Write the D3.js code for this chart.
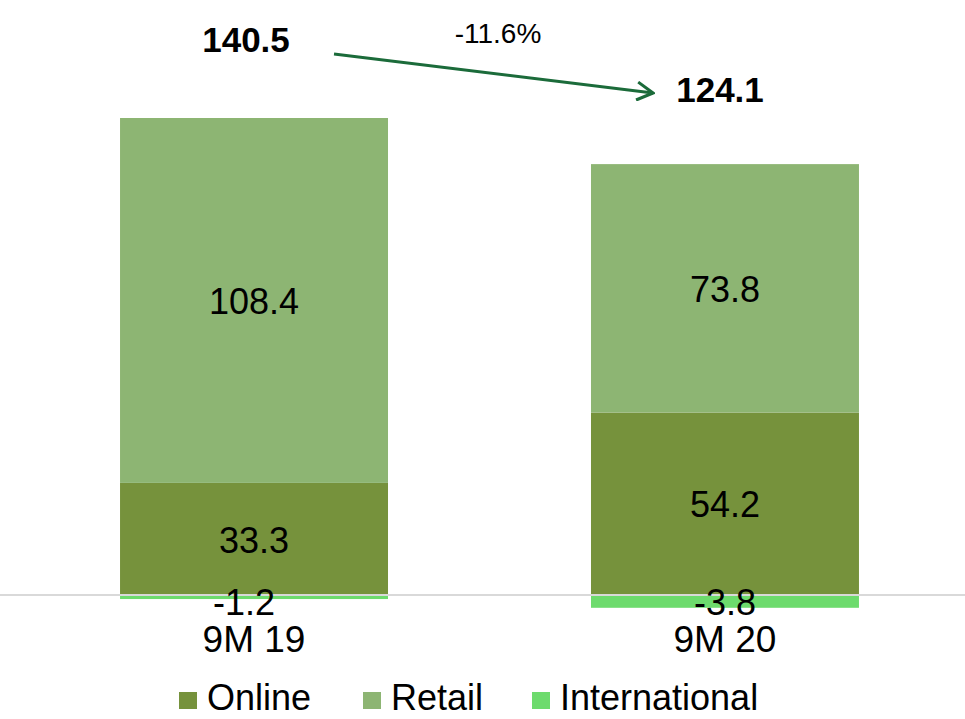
<!DOCTYPE html>
<html>
<head>
<meta charset="utf-8">
<script src="https://cdn.jsdelivr.net/npm/d3@7"></script>
<style>
  body { margin: 0; background: #fff; }
  svg { display: block; font-family: "Liberation Sans", Arial, sans-serif; }
</style>
</head>
<body>
<svg id="chart" width="965" height="719"></svg>
<script>
// data
const categories = ['9M 19', '9M 20']
const seriesNames = ['Online', 'Retail', 'International']
const online = [33.3, 54.2]
const retail = [108.4, 73.8]
const international = [-1.2, -3.8]
const totals = ['140.5', '124.1']
const changeLabel = '-11.6%'

const colors = { 'Online': '#76923c', 'Retail': '#8db573', 'International': '#6ddb6d' }

const width = 965
const svg = d3.select('#chart')

const x = d3.scaleBand()
    .domain(categories)
    .range([7, 972])
    .paddingInner(0.431)
    .paddingOuter(0.24)

const y = d3.scaleLinear()
    .domain([0, 141.7])
    .range([595, 118])

// stacked segments: online on the base, retail on top, international below zero
const segments = []
categories.forEach((cat, i) => {
    segments.push({ cat: cat, i: i, name: 'Online', y0: 0, y1: online[i], value: online[i] })
    segments.push({ cat: cat, i: i, name: 'Retail', y0: online[i], y1: online[i] + retail[i], value: retail[i] })
    segments.push({ cat: cat, i: i, name: 'International', y0: international[i], y1: 0, value: international[i] })
})

svg.append('g')
    .selectAll('rect')
    .data(segments)
    .join('rect')
    .attr('x', d => x(d.cat))
    .attr('width', x.bandwidth())
    .attr('y', d => y(d.y1))
    .attr('height', d => y(d.y0) - y(d.y1))
    .attr('fill', d => colors[d.name])

// zero line
svg.append('line')
    .attr('x1', 0)
    .attr('x2', width)
    .attr('y1', y(0))
    .attr('y2', y(0))
    .attr('stroke', '#d9d9d9')
    .attr('stroke-width', 2)

// segment labels (the negative ones sit just under the zero line)
const labelSize = 36
const negShift = [-10, 0]
svg.append('g')
    .selectAll('text')
    .data(segments)
    .join('text')
    .attr('x', d => x(d.cat) + x.bandwidth() / 2 + (d.name == 'International' ? negShift[d.i] : 0))
    .attr('y', d => d.name == 'International'
        ? y(0) + 20
        : y((d.y0 + d.y1) / 2) + labelSize * 0.38)
    .attr('text-anchor', 'middle')
    .attr('font-size', labelSize)
    .attr('fill', '#000')
    .text(d => d.value.toFixed(1))

// category labels
svg.append('g')
    .selectAll('text')
    .data(categories)
    .join('text')
    .attr('x', d => x(d) + x.bandwidth() / 2)
    .attr('y', 652)
    .attr('text-anchor', 'middle')
    .attr('font-size', 37)
    .attr('fill', '#000')
    .text(d => d)

// totals above bars
svg.append('text')
    .attr('x', 246)
    .attr('y', 52)
    .attr('text-anchor', 'middle')
    .attr('font-size', 35)
    .attr('font-weight', 'bold')
    .text(totals[0])

svg.append('text')
    .attr('x', 720)
    .attr('y', 102)
    .attr('text-anchor', 'middle')
    .attr('font-size', 35)
    .attr('font-weight', 'bold')
    .text(totals[1])

svg.append('text')
    .attr('x', 498)
    .attr('y', 43)
    .attr('text-anchor', 'middle')
    .attr('font-size', 28)
    .text(changeLabel)

// arrow
svg.append('defs').append('marker')
    .attr('id', 'arrowhead')
    .attr('viewBox', '0 0 20 20')
    .attr('refX', 18)
    .attr('refY', 10)
    .attr('markerWidth', 20)
    .attr('markerHeight', 20)
    .attr('markerUnits', 'userSpaceOnUse')
    .attr('orient', 'auto')
    .append('path')
    .attr('d', 'M2,1 L18,10 L2,19')
    .attr('fill', 'none')
    .attr('stroke', '#1b6b3a')
    .attr('stroke-width', 3)

svg.append('line')
    .attr('x1', 334)
    .attr('y1', 54)
    .attr('x2', 653)
    .attr('y2', 93)
    .attr('stroke', '#1b6b3a')
    .attr('stroke-width', 3)
    .attr('marker-end', 'url(#arrowhead)')

// legend
const legendX = [179, 363, 532]
const legend = svg.append('g')
    .selectAll('g')
    .data(seriesNames)
    .join('g')
    .attr('transform', (d, i) => 'translate(' + legendX[i] + ',692)')

legend.append('rect')
    .attr('width', 18)
    .attr('height', 17)
    .attr('fill', d => colors[d])

legend.append('text')
    .attr('x', 28)
    .attr('y', 18)
    .attr('font-size', 36)
    .attr('fill', '#000')
    .text(d => d)
</script>
</body>
</html>
